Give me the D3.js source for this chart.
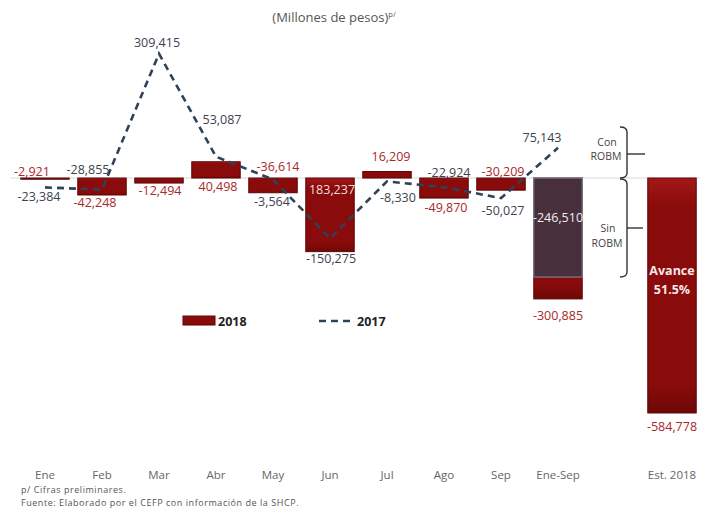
<!DOCTYPE html>
<html>
<head>
<meta charset="utf-8">
<script src="https://cdn.jsdelivr.net/npm/d3@7"></script>
<style>
  body { margin: 0; background: #fff; }
  svg { display: block; font-family: "Open Sans", "DejaVu Sans", sans-serif; }
</style>
</head>
<body>
<div id="chart"></div>
<script>
// ── Data ──
const categories = ['Ene', 'Feb', 'Mar', 'Abr', 'May', 'Jun', 'Jul', 'Ago', 'Sep', 'Ene-Sep', ' ', 'Est. 2018'];
const values2018 = [-2921, -42248, -12494, 40498, -36614, -183237, 16209, -49870, -30209, -300885, null, -584778];
const labels2018 = ['-2,921', '-42,248', '-12,494', '40,498', '-36,614', '183,237', '16,209', '-49,870', '-30,209', '-300,885', null, '-584,778'];
const values2017 = [-23384, -28855, 309415, 53087, -3564, -150275, -8330, -22924, -50027, 75143];
const labels2017 = ['-23,384', '-28,855', '309,415', '53,087', '-3,564', '-150,275', '-8,330', '-22,924', '-50,027', '75,143'];
const sinRobmValue = -246510;
const sinRobmLabel = '-246,510';

// label placement offsets (dx, dy) from each mark's end point
const off2018 = [[-13, -8], [-7, 8], [1, 7], [2, 25], [5, -26], [2, -62], [4, -15], [2, 9], [2, -19], [0, 17], null, [0, 14]];
const off2017 = [[-6, 9], [-14, -20], [-2, -11], [6, -37], [-1, 22], [1, 20], [11, 16], [5, -15], [2, 12], [-16, -10]];

const W = 702, H = 509;
const red = '#8a0b0b', redDark = '#5e0505', redText = '#a8292b', darkText = '#3b4350', lineCol = '#2f4257';

const svg = d3.select('#chart').append('svg').attr('width', W).attr('height', H);

const defs = svg.append('defs');
const grad = defs.append('linearGradient').attr('id', 'barGrad').attr('x1', 0).attr('x2', 0).attr('y1', 0).attr('y2', 1);
grad.append('stop').attr('offset', '0%').attr('stop-color', '#a31818');
grad.append('stop').attr('offset', '12%').attr('stop-color', red);
grad.append('stop').attr('offset', '88%').attr('stop-color', red);
grad.append('stop').attr('offset', '100%').attr('stop-color', '#6e0707');

// ── Scales ──
const x = d3.scaleBand().domain(categories).range([16.5, 700.5]).paddingInner(0.15).paddingOuter(0.075);
const y = d3.scaleLinear().domain([-600000, 400000]).range([419.1, 17.3]);
const cx = function(i) { return x(categories[i]) + x.bandwidth() / 2; };

// ── Title ──
const title = svg.append('text').attr('x', 334).attr('y', 22).attr('text-anchor', 'middle')
  .attr('fill', '#555').attr('font-size', 13);
title.append('tspan').text('(Millones de pesos)');
title.append('tspan').attr('font-size', 7.5).attr('dy', -5).text('p/');

// ── Zero line ──
svg.append('line').attr('x1', 10).attr('x2', 700).attr('y1', y(0)).attr('y2', y(0))
  .attr('stroke', '#d9d9d9').attr('stroke-width', 1);

// ── Bars 2018 ──
const barData = values2018.map(function(v, i) { return { v: v, i: i }; }).filter(function(d) { return d.v != null; });
svg.append('g').selectAll('rect').data(barData).join('rect')
  .attr('x', function(d) { return x(categories[d.i]); })
  .attr('width', x.bandwidth())
  .attr('y', function(d) { return Math.min(y(d.v), y(0)); })
  .attr('height', function(d) { return Math.max(1.2, Math.abs(y(d.v) - y(0))); })
  .attr('fill', 'url(#barGrad)')
  .attr('stroke', redDark).attr('stroke-width', 1);

// Sin ROBM overlay on Ene-Sep
const esIdx = categories.indexOf('Ene-Sep');
svg.append('rect')
  .attr('x', x('Ene-Sep')).attr('width', x.bandwidth())
  .attr('y', y(0)).attr('height', y(sinRobmValue) - y(0))
  .attr('fill', '#47303c').attr('stroke', '#7d7d86').attr('stroke-width', 1.2);

// ── Line 2017 ──
const line = d3.line().x(function(d, i) { return cx(i); }).y(function(d) { return y(d); });
svg.append('path').datum(values2017).attr('d', line)
  .attr('fill', 'none').attr('stroke', lineCol).attr('stroke-width', 2.6)
  .attr('stroke-dasharray', '7,5');

// ── Labels 2018 ──
svg.append('g').selectAll('text').data(barData).join('text')
  .attr('x', function(d) { return cx(d.i) + off2018[d.i][0]; })
  .attr('y', function(d) { return y(d.v) + off2018[d.i][1]; })
  .attr('text-anchor', 'middle').attr('dominant-baseline', 'central')
  .attr('font-size', 12.5)
  .attr('fill', function(d) { return categories[d.i] === 'Jun' ? '#f3dede' : redText; })
  .text(function(d) { return labels2018[d.i]; });

// ── Labels 2017 ──
svg.append('g').selectAll('text').data(values2017).join('text')
  .attr('x', function(d, i) { return cx(i) + off2017[i][0]; })
  .attr('y', function(d, i) { return y(d) + off2017[i][1]; })
  .attr('text-anchor', 'middle').attr('dominant-baseline', 'central')
  .attr('font-size', 12.5).attr('fill', darkText)
  .text(function(d, i) { return labels2017[i]; });

// Sin ROBM label inside dark bar
svg.append('text').attr('x', cx(esIdx)).attr('y', y(sinRobmValue / 2) - 10)
  .attr('text-anchor', 'middle').attr('dominant-baseline', 'central')
  .attr('font-size', 12.5).attr('fill', '#f2eef0').text(sinRobmLabel);

// Avance label inside Est. 2018 bar
const estIdx = categories.indexOf('Est. 2018');
svg.append('text').attr('x', cx(estIdx)).attr('y', 270).attr('text-anchor', 'middle')
  .attr('dominant-baseline', 'central').attr('font-size', 12.5).attr('font-weight', 'bold')
  .attr('fill', '#f6e8e8').text('Avance');
svg.append('text').attr('x', cx(estIdx)).attr('y', 289).attr('text-anchor', 'middle')
  .attr('dominant-baseline', 'central').attr('font-size', 12.5).attr('font-weight', 'bold')
  .attr('fill', '#f6e8e8').text('51.5%');

// ── Brackets Con / Sin ROBM ──
const bx = 627;
const br = svg.append('g').attr('fill', 'none').attr('stroke', '#333').attr('stroke-width', 1.4);
br.append('path').attr('d', 'M620,' + 127 + ' Q' + bx + ',127 ' + bx + ',132 V' + (y(0) - 5) + ' Q' + bx + ',' + y(0) + ' 620,' + y(0));
br.append('path').attr('d', 'M620,' + (y(0) + 1) + ' Q' + bx + ',' + (y(0) + 1) + ' ' + bx + ',' + (y(0) + 6) + ' V' + (y(sinRobmValue) - 5) + ' Q' + bx + ',' + y(sinRobmValue) + ' 620,' + y(sinRobmValue));
br.append('line').attr('x1', bx).attr('x2', 645).attr('y1', 154).attr('y2', 154);
br.append('line').attr('x1', bx).attr('x2', 643).attr('y1', 228).attr('y2', 228);

const bt = svg.append('g').attr('fill', '#444').attr('font-size', 10.5).attr('text-anchor', 'middle').attr('dominant-baseline', 'central');
bt.append('text').attr('x', 607).attr('y', 142).text('Con');
bt.append('text').attr('x', 606).attr('y', 156).text('ROBM');
bt.append('text').attr('x', 608).attr('y', 228).text('Sin');
bt.append('text').attr('x', 607).attr('y', 243).text('ROBM');

// ── Legend ──
const lg = svg.append('g');
lg.append('rect').attr('x', 183).attr('y', 316).attr('width', 32).attr('height', 9)
  .attr('fill', 'url(#barGrad)').attr('stroke', redDark);
lg.append('text').attr('x', 218).attr('y', 321).attr('dominant-baseline', 'central')
  .attr('font-size', 12.5).attr('font-weight', 'bold').attr('fill', '#222').text('2018');
lg.append('line').attr('x1', 319).attr('x2', 355).attr('y1', 321).attr('y2', 321)
  .attr('stroke', lineCol).attr('stroke-width', 2.6).attr('stroke-dasharray', '7,5');
lg.append('text').attr('x', 357).attr('y', 321).attr('dominant-baseline', 'central')
  .attr('font-size', 12.5).attr('font-weight', 'bold').attr('fill', '#222').text('2017');

// ── Category axis ──
const axis = svg.append('g').attr('transform', 'translate(0,468)')
  .call(d3.axisBottom(x).tickSize(0).tickFormat(function(d) { return d.trim(); }));
axis.select('.domain').remove();
axis.selectAll('text').attr('font-size', 11.5).attr('fill', '#666').attr('font-family', '"Open Sans", sans-serif');

// ── Footnotes ──
const fn = svg.append('g').attr('font-size', 9).attr('letter-spacing', 0.55).attr('fill', '#555');
fn.append('text').attr('x', 21).attr('y', 493).text('p/ Cifras preliminares.');
fn.append('text').attr('x', 21).attr('y', 506).text('Fuente: Elaborado por el CEFP con información de la SHCP.');
</script>
</body>
</html>
